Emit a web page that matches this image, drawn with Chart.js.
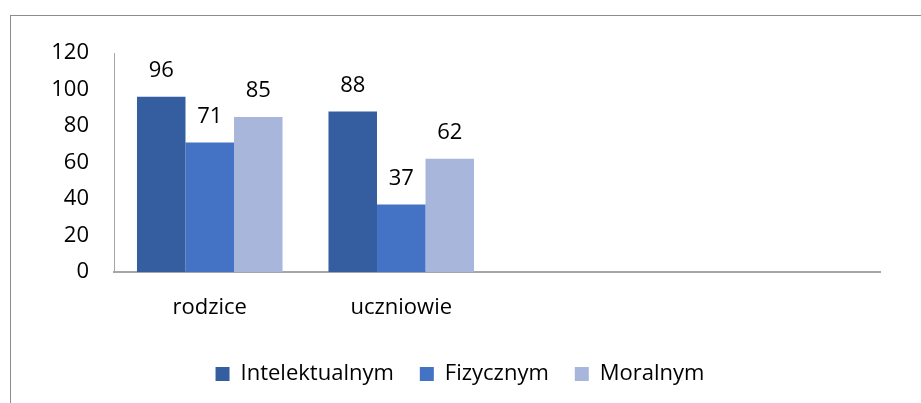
<!DOCTYPE html>
<html>
<head>
<meta charset="utf-8">
<script src="https://cdn.jsdelivr.net/npm/chart.js@4/dist/chart.umd.min.js"></script>
<style>
  html, body { margin: 0; padding: 0; background: #fff; overflow: hidden; }
  #wrap { position: relative; width: 921px; height: 403px; }
  #frame { position: absolute; left: 10px; top: 15px; width: 1000px; height: 500px;
           border-left: 1px solid #8c8c8c; border-top: 1px solid #8c8c8c; }
  canvas { position: absolute; left: 0; top: 0; }
</style>
</head>
<body>
<div id="wrap">
  <div id="frame"></div>
  <canvas id="chart" width="921" height="403"></canvas>
</div>
<script>
const categories = ["rodzice", "uczniowie", "", ""];
const intelektualnym = [96, 88, null, null];
const fizycznym = [71, 37, null, null];
const moralnym = [85, 62, null, null];
const yTicks = [0, 20, 40, 60, 80, 100, 120];

const FONT = "'Open Sans', sans-serif";

// draw the value above each bar
const valueLabels = {
  id: "valueLabels",
  afterDatasetsDraw(chart) {
    const ctx = chart.ctx;
    ctx.save();
    ctx.font = "22px " + FONT;
    ctx.fillStyle = "#000";
    ctx.textAlign = "center";
    ctx.textBaseline = "middle";
    chart.data.datasets.forEach((ds, i) => {
      chart.getDatasetMeta(i).data.forEach((bar, j) => {
        if (ds.data[j] == null) return;
        ctx.fillText(ds.data[j], bar.x, bar.y - 26);
      });
    });
    ctx.restore();
  }
};

new Chart(document.getElementById("chart"), {
  type: "bar",
  data: {
    labels: categories,
    datasets: [
      { label: "Intelektualnym", data: intelektualnym, backgroundColor: "#355ea1" },
      { label: "Fizycznym", data: fizycznym, backgroundColor: "#4472c4" },
      { label: "Moralnym", data: moralnym, backgroundColor: "#a9b6db" },
    ],
  },
  options: {
    responsive: false,
    animation: false,
    layout: { padding: { top: 53, right: 41, left: 40, bottom: 8 } },
    datasets: { bar: { barPercentage: 1, categoryPercentage: 0.76 } },
    scales: {
      x: {
        grid: { display: false, drawTicks: false },
        border: { display: true, color: "#a6a6a6", width: 2 },
        ticks: { color: "#000", font: { family: FONT, size: 22 }, padding: 23, maxRotation: 0 },
        afterFit(scale) { scale.height = 65; },
      },
      y: {
        min: 0,
        max: 120,
        afterBuildTicks(scale) { scale.ticks = yTicks.map(v => ({ value: v })); },
        grid: { display: false, drawTicks: false },
        border: { display: true, color: "#a6a6a6", width: 1 },
        ticks: { color: "#000", font: { family: FONT, size: 22 }, padding: 25 },
        afterFit(scale) { scale.width = 74; },
      },
    },
    plugins: {
      legend: {
        position: "bottom",
        labels: {
          color: "#000",
          font: { family: FONT, size: 22 },
          boxWidth: 14,
          boxHeight: 14,
          padding: 26,
        },
      },
      tooltip: { enabled: false },
    },
  },
  plugins: [valueLabels],
});
</script>
</body>
</html>
